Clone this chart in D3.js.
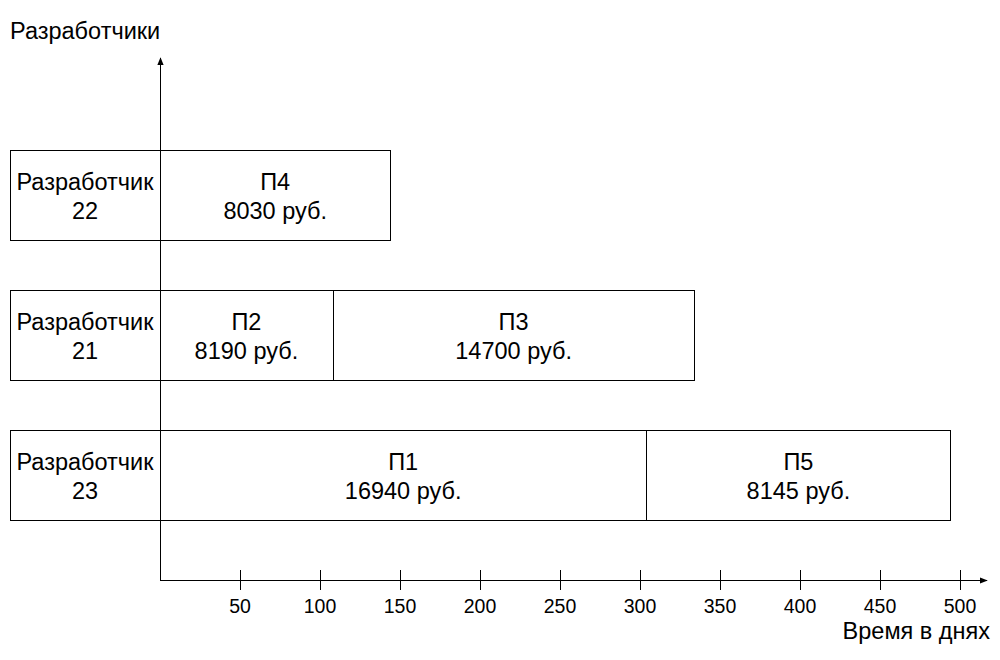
<!DOCTYPE html>
<html><head><meta charset="utf-8">
<script src="https://cdn.jsdelivr.net/npm/d3@7"></script>
<style>body{margin:0;background:#fff}svg{display:block}text{font-family:"Liberation Sans",Arial,sans-serif;fill:#000}</style>
</head><body>
<svg id="c" width="1000" height="660"></svg>
<script>
const developers = ["Разработчик 22", "Разработчик 21", "Разработчик 23"];
const devShort = ["22", "21", "23"];
const tasks = ["П4", "П2", "П3", "П1", "П5"];
const taskDev = ["Разработчик 22", "Разработчик 21", "Разработчик 21", "Разработчик 23", "Разработчик 23"];
const starts = [0, 0, 108, 0, 304];
const ends = [144, 108, 334, 304, 494];
const costs = [8030, 8190, 14700, 16940, 8145];
const tickValues = [50, 100, 150, 200, 250, 300, 350, 400, 450, 500];

const svg = d3.select("#c");
const x = d3.scaleLinear().domain([0, 500]).range([160, 960]);
const y = d3.scaleBand().domain(developers).range([150, 520]).paddingInner(50/140).paddingOuter(0);
const axisY = 580, labelW = 150, fs = 23.5, tfs = 19.5;

svg.append("defs").append("marker").attr("id","arr").attr("viewBox","0 0 10 10")
  .attr("refX",9).attr("refY",5).attr("markerWidth",8).attr("markerHeight",8)
  .attr("orient","auto-start-reverse").attr("markerUnits","userSpaceOnUse")
  .append("path").attr("d","M0,1 L10,5 L0,9 Z").attr("fill","#000");

// label boxes
const lb = svg.append("g");
developers.forEach((d,i)=>{
  lb.append("rect").attr("x", x(0)-labelW+0.5).attr("y", y(d)+0.5).attr("width", labelW).attr("height", y.bandwidth())
    .attr("fill","#fff").attr("stroke","#000");
  const t = lb.append("text").attr("text-anchor","middle").attr("font-size",fs)
    .attr("x", x(0)-labelW/2).attr("y", y(d)+y.bandwidth()/2 - 5);
  t.append("tspan").attr("x", x(0)-labelW/2).text("Разработчик");
  t.append("tspan").attr("x", x(0)-labelW/2).attr("dy", 29).text(devShort[i]);
});

// y axis line
svg.append("line").attr("x1", x(0)+0.5).attr("x2", x(0)+0.5).attr("y1", axisY).attr("y2", 58)
  .attr("stroke","#000").attr("marker-end","url(#arr)");

// task bars
const g = svg.append("g");
tasks.forEach((t,i)=>{
  const x0 = x(starts[i]), x1 = x(ends[i]), yy = y(taskDev[i]);
  g.append("rect").attr("x", Math.round(x0)+0.5).attr("y", yy+0.5).attr("width", Math.round(x1)-Math.round(x0)).attr("height", y.bandwidth())
    .attr("fill","#fff").attr("stroke","#000");
  const cx = (x0+x1)/2;
  const tx = g.append("text").attr("text-anchor","middle").attr("font-size",fs).attr("y", yy+y.bandwidth()/2-5);
  tx.append("tspan").attr("x", cx).text(t);
  tx.append("tspan").attr("x", cx).attr("dy", 29).text(costs[i] + " руб.");
});

// x axis
svg.append("line").attr("x1", x(0)).attr("x2", 987).attr("y1", axisY+0.5).attr("y2", axisY+0.5)
  .attr("stroke","#000").attr("marker-end","url(#arr)");
const ax = svg.append("g");
tickValues.forEach(v=>{
  ax.append("line").attr("x1", x(v)+0.5).attr("x2", x(v)+0.5).attr("y1", axisY-10).attr("y2", axisY+10).attr("stroke","#000");
  ax.append("text").attr("x", x(v)).attr("y", axisY+33).attr("text-anchor","middle").attr("font-size",tfs).text(v);
});

svg.append("text").attr("x", 10).attr("y", 39).attr("font-size",fs).text("Разработчики");
svg.append("text").attr("x", 990).attr("y", 639).attr("text-anchor","end").attr("font-size",fs).text("Время в днях");
</script>
</body></html>
